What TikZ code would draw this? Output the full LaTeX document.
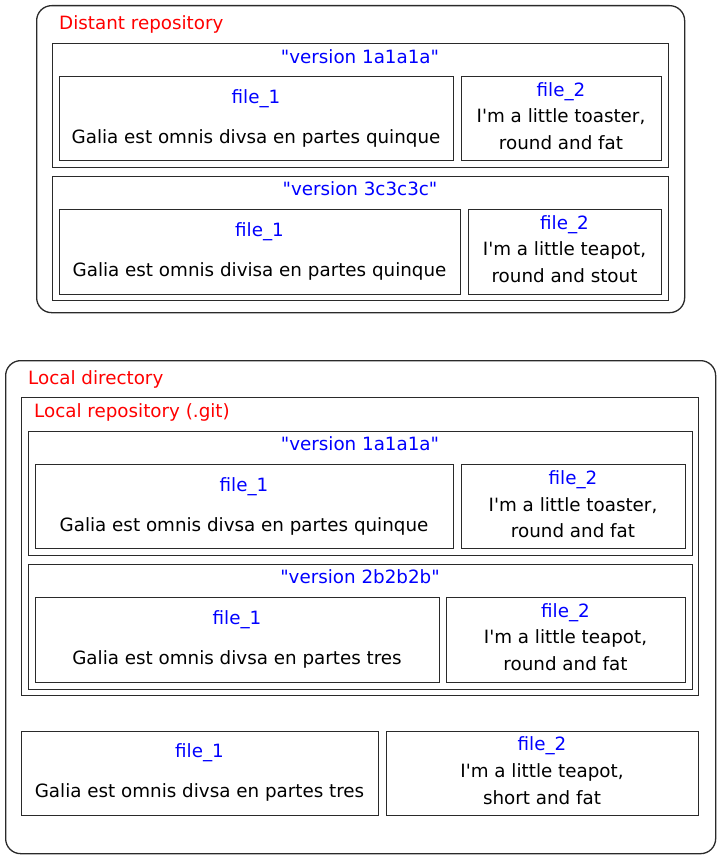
\documentclass[tikz,border=0pt]{standalone}
\usepackage{fontspec}
\newfontfamily\dv{DejaVu Sans}
\definecolor{lc}{HTML}{2A2A2A}
\definecolor{tblue}{HTML}{0000FF}
\definecolor{tred}{HTML}{FF0000}
\begin{document}
\begin{tikzpicture}[x=1pt,y=-1pt,
  box/.style={draw=lc, line width=1.3pt, rectangle, inner sep=0pt, anchor=north west},
  txt/.style={font=\dv\fontsize{18.3}{22}\selectfont, inner sep=0pt, anchor=base},
  fname/.style={txt, text=tblue},
  lbl/.style={font=\dv\fontsize{18.3}{22}\selectfont, inner sep=0pt, anchor=base west, text=tred},
  body/.style={txt, text=black}]
\useasboundingbox (0,0) rectangle (720,859);
% ---------- Distant repository ----------
\node[box, rounded corners=15pt, minimum width=648pt, minimum height=307pt] (dist) at (36,5) {};
\node[lbl] (distlbl) at (59,29.5) {Distant repository};
\node[box, minimum width=616pt, minimum height=124pt] (dv1) at (52,43) {};
\node[fname] (dv1t) at (360,63.5) {"version 1a1a1a"};
\node[box, minimum width=394pt, minimum height=84pt] (dv1f1) at (59,76) {};
\node[fname] (dv1f1n) at (256,103.5) {file\_1};
\node[body] (dv1f1b) at (256,143.5) {Galia est omnis divsa en partes quinque};
\node[box, minimum width=200pt, minimum height=84pt] (dv1f2) at (461,76) {};
\node[fname] (dv1f2n) at (561,96.5) {file\_2};
\node[body] (dv1f2a) at (561,122.5) {I'm a little toaster,};
\node[body] (dv1f2b) at (561,149.5) {round and fat};
\node[box, minimum width=616pt, minimum height=124pt] (dv2) at (52,176) {};
\node[fname] (dv2t) at (360,195.5) {"version 3c3c3c"};
\node[box, minimum width=401pt, minimum height=85pt] (dv2f1) at (59,209) {};
\node[fname] (dv2f1n) at (259.5,236.5) {file\_1};
\node[body] (dv2f1b) at (259.5,276.5) {Galia est omnis divisa en partes quinque};
\node[box, minimum width=193pt, minimum height=85pt] (dv2f2) at (468,209) {};
\node[fname] (dv2f2n) at (564.5,229.5) {file\_2};
\node[body] (dv2f2a) at (564.5,255.5) {I'm a little teapot,};
\node[body] (dv2f2b) at (564.5,282.5) {round and stout};
% ---------- Local directory ----------
\node[box, rounded corners=15pt, minimum width=710pt, minimum height=493pt] (loc) at (5,360) {};
\node[lbl] (loclbl) at (28,384.5) {Local directory};
\node[box, minimum width=677pt, minimum height=298pt] (repo) at (21,397) {};
\node[lbl] (repolbl) at (34,417.5) {Local repository (.git)};
\node[box, minimum width=664pt, minimum height=124pt] (lv1) at (28,431) {};
\node[fname] (lv1t) at (360,450.5) {"version 1a1a1a"};
\node[box, minimum width=418pt, minimum height=84pt] (lv1f1) at (35,464) {};
\node[fname] (lv1f1n) at (244,491.5) {file\_1};
\node[body] (lv1f1b) at (244,531.5) {Galia est omnis divsa en partes quinque};
\node[box, minimum width=224pt, minimum height=84pt] (lv1f2) at (461,464) {};
\node[fname] (lv1f2n) at (573,484.5) {file\_2};
\node[body] (lv1f2a) at (573,511.5) {I'm a little toaster,};
\node[body] (lv1f2b) at (573,537.5) {round and fat};
\node[box, minimum width=664pt, minimum height=125pt] (lv2) at (28,564) {};
\node[fname] (lv2t) at (360,583.5) {"version 2b2b2b"};
\node[box, minimum width=404pt, minimum height=85pt] (lv2f1) at (35,597) {};
\node[fname] (lv2f1n) at (237,624.5) {file\_1};
\node[body] (lv2f1b) at (237,664.5) {Galia est omnis divsa en partes tres};
\node[box, minimum width=239pt, minimum height=85pt] (lv2f2) at (446,597) {};
\node[fname] (lv2f2n) at (565.5,617.5) {file\_2};
\node[body] (lv2f2a) at (565.5,643.5) {I'm a little teapot,};
\node[body] (lv2f2b) at (565.5,670.5) {round and fat};
% working copy
\node[box, minimum width=357pt, minimum height=84pt] (wf1) at (21,731) {};
\node[fname] (wf1n) at (199.5,757.5) {file\_1};
\node[body] (wf1b) at (199.5,797.5) {Galia est omnis divsa en partes tres};
\node[box, minimum width=312pt, minimum height=84pt] (wf2) at (386,731) {};
\node[fname] (wf2n) at (542,750.5) {file\_2};
\node[body] (wf2a) at (542,777.5) {I'm a little teapot,};
\node[body] (wf2b) at (542,804.5) {short and fat};
\end{tikzpicture}
\end{document}
